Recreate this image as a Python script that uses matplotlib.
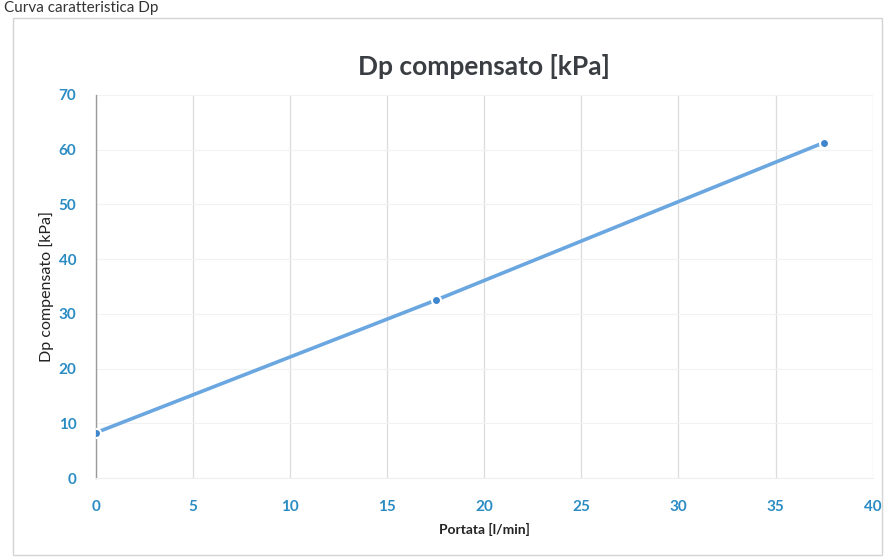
import matplotlib.pyplot as plt
from matplotlib.patches import Rectangle

plt.rcParams['font.family'] = ['Lato', 'DejaVu Sans']

# data
portata = [0, 17.5, 37.5]
dp = [8.3, 32.5, 61.3]
x_ticks = [0, 5, 10, 15, 20, 25, 30, 35, 40]
y_ticks = [0, 10, 20, 30, 40, 50, 60, 70]

tick_col = '#2b8cc4'
line_col = '#6aa6e0'
mark_col = '#3f86cc'

fig = plt.figure(figsize=(8.95, 5.58), dpi=100)
ax = fig.add_axes([0.107, 0.143, 0.868, 0.687])

# outer chart frame
fig.patches.append(Rectangle((0.014, 0.005), 0.972, 0.963, transform=fig.transFigure,
                             fill=False, ec='#d4d4d4', lw=1.0))
fig.text(0.005, 0.998, 'Curva caratteristica Dp', fontsize=11, color='#333333',
         ha='left', va='top')

ax.plot(portata, dp, color=line_col, lw=2.6, zorder=3)
ax.plot(portata, dp, 'o', ms=6.5, color=mark_col, mec='white', mew=1.5, zorder=4)

ax.set_xlim(0, 40)
ax.set_ylim(0, 70)
ax.set_xticks(x_ticks)
ax.set_yticks(y_ticks)
ax.grid(axis='x', color='#dcdcdc', lw=0.9)
ax.grid(axis='y', color='#f2f2f2', lw=0.8)
ax.set_axisbelow(True)

for s in ['top', 'right']:
    ax.spines[s].set_visible(False)
ax.spines['bottom'].set_color('#eeeeee')
ax.spines['left'].set_color('#9a9a9a')
ax.spines['left'].set_linewidth(1.0)
ax.tick_params(length=0, labelsize=11, labelcolor=tick_col)
ax.tick_params(axis='x', pad=16)
ax.tick_params(axis='y', pad=14)
for lb in ax.get_xticklabels() + ax.get_yticklabels():
    lb.set_fontweight('bold')

ax.set_title('Dp compensato [kPa]', fontsize=19, fontweight='bold', color='#3a3d42', pad=14)
ax.set_xlabel('Portata [l/min]', fontsize=10, fontweight='bold', color='#222222', labelpad=6)
ax.set_ylabel('Dp compensato [kPa]', fontsize=11.5, color='#222222', labelpad=3)

fig.savefig('out.png', dpi=100, facecolor='white')
